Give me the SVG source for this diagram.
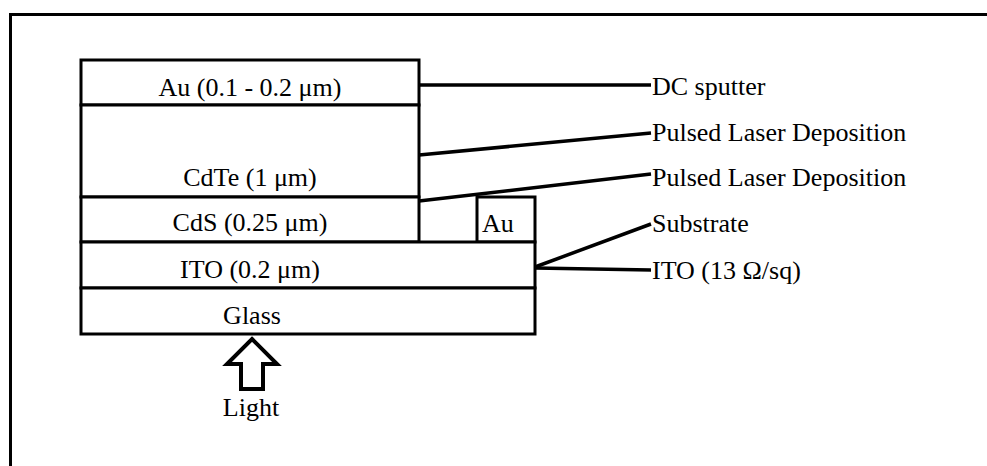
<svg xmlns="http://www.w3.org/2000/svg" width="987" height="466" viewBox="0 0 987 466">
<style>
.t{font-family:"Liberation Serif","Times New Roman",serif;font-size:26px;fill:#000}
.c{text-anchor:middle}
.box{fill:#fff;stroke:#000;stroke-width:3}
.con{stroke:#000;stroke-width:3.5;fill:none}
</style>
<rect width="987" height="466" fill="#fff"/>
<path d="M10.5 470 V14.5 H990" fill="none" stroke="#000" stroke-width="3"/>
<g id="au-layer"><rect class="box" x="81" y="60" width="338" height="45"/><text class="t c" x="250" y="96">Au (0.1 - 0.2 μm)</text></g>
<g id="cdte-layer"><rect class="box" x="81" y="105" width="338" height="92"/><text class="t c" x="250" y="186">CdTe (1 μm)</text></g>
<g id="cds-layer"><rect class="box" x="81" y="197" width="338" height="45"/><text class="t c" x="250" y="231">CdS (0.25 μm)</text></g>
<g id="au-contact"><rect class="box" x="477" y="197" width="58" height="45"/><text class="t" x="482" y="232">Au</text></g>
<g id="ito-layer"><rect class="box" x="81" y="242" width="454" height="46"/><text class="t c" x="250" y="278">ITO (0.2 μm)</text></g>
<g id="glass-layer"><rect class="box" x="81" y="288" width="454" height="46"/><text class="t c" x="252" y="324">Glass</text></g>
<g id="light"><polygon points="252,339 277,364 263,364 263,389 241,389 241,364 227,364" fill="#fff" stroke="#000" stroke-width="4" stroke-linejoin="miter"/><text class="t c" x="251" y="416">Light</text></g>
<g id="connectors">
<line class="con" x1="419" y1="85" x2="651" y2="85"/>
<line class="con" x1="419" y1="155" x2="651" y2="133"/>
<line class="con" x1="419" y1="201" x2="651" y2="174"/>
<line class="con" x1="535" y1="267" x2="651" y2="224"/>
<line class="con" x1="535" y1="268" x2="651" y2="270"/>
</g>
<g id="lbl-dc"><text class="t" x="652" y="95">DC sputter</text></g>
<g id="lbl-pld1"><text class="t" x="652" y="141">Pulsed Laser Deposition</text></g>
<g id="lbl-pld2"><text class="t" x="652" y="186">Pulsed Laser Deposition</text></g>
<g id="lbl-sub"><text class="t" x="652" y="232">Substrate</text></g>
<g id="lbl-ito"><text class="t" x="652" y="279">ITO (13 Ω/sq)</text></g>
</svg>
